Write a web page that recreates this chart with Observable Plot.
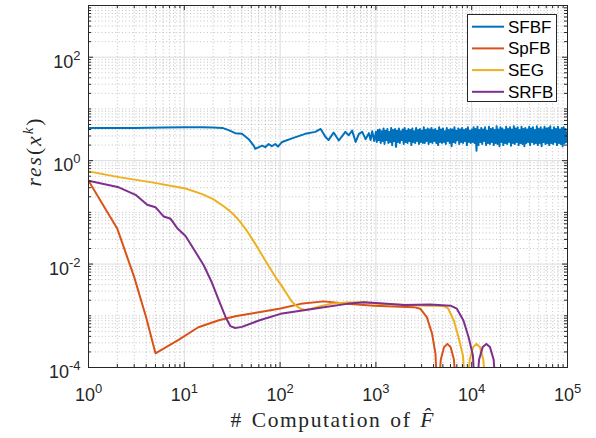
<!DOCTYPE html>
<html><head><meta charset="utf-8">
<script src="https://cdn.jsdelivr.net/npm/d3@7"></script>
<script src="https://cdn.jsdelivr.net/npm/@observablehq/plot@0.6"></script>
<style>
body{margin:0;background:#fff;}
#wrap{position:relative;width:596px;height:438px;}
#legend{position:absolute;left:467px;top:14px;width:90px;height:88px;background:#fff;border:1px solid #262626;box-sizing:border-box;}
</style></head><body><div id="wrap"></div>
<script>
const seriesNames = ["SFBF", "SpFB", "SEG", "SRFB"];
const seriesColors = ["#0072BD", "#D95319", "#EDB120", "#7E2F8E"];

// SFBF: smooth-ish part up to 1e3
const sfbfHeadX = [1,3,6,10,15,20,25,29,34,40,47,53,55,60,65,70,76,82,89,95,105,133,183,233,265,297,320,362,410,480,520,565,615,665,720,780,845,880,915,960];
const sfbfHeadY = [4.3,4.3,4.35,4.4,4.4,4.35,4.3,3.9,3.4,3.3,2.6,1.95,1.7,1.82,1.95,1.82,2.1,1.9,2.1,1.87,2.3,2.7,3.3,3.6,4.1,2.9,2.5,3.5,2.45,3.6,3.1,3.8,2.3,3.3,3.6,2.6,3.4,2.5,3.7,2.4];
// SFBF: oscillating part, sample positions within a decade (mantissas)
const decadeMantissa = [1.000,1.023,1.047,1.072,1.096,1.122,1.148,1.175,1.202,1.230,1.259,1.288,1.318,1.349,1.380,1.413,1.445,1.479,1.514,1.549,1.585,1.622,1.660,1.698,1.738,1.778,1.820,1.862,1.905,1.950,1.995,2.042,2.089,2.138,2.188,2.239,2.291,2.344,2.399,2.455,2.512,2.570,2.630,2.692,2.754,2.818,2.884,2.951,3.020,3.090,3.162,3.236,3.311,3.388,3.467,3.548,3.631,3.715,3.802,3.890,3.981,4.074,4.169,4.266,4.365,4.467,4.571,4.677,4.786,4.898,5.012,5.129,5.248,5.370,5.495,5.623,5.754,5.888,6.026,6.166,6.310,6.457,6.607,6.761,6.918,7.079,7.244,7.413,7.586,7.762,7.943,8.128,8.318,8.511,8.710,8.913,9.120,9.333,9.550,9.772];
const sfbfTailY = [
3.6,2.3,3.9,2.5,4.0,2.2,3.7,2.4,4.2,2.1,
3.8,2.5,4.1,2.2,3.6,2.3,4.3,2.0,3.9,2.4,
4.1,1.85,3.8,2.3,4.2,2.2,3.7,2.5,4.0,2.1,
4.3,2.3,3.8,2.2,4.1,2.4,3.9,2.0,4.2,2.3,
3.7,2.2,4.3,2.4,3.9,2.1,4.1,2.3,3.8,2.2,
4.4,2.2,3.9,2.4,4.2,2.1,4.0,2.3,4.3,2.2,
3.9,2.4,4.1,2.2,3.8,2.0,4.4,2.3,4.0,2.2,
4.2,2.3,3.7,2.1,4.3,2.4,3.9,2.2,4.1,1.9,
4.0,2.3,4.4,2.2,3.8,2.5,4.2,2.1,4.0,2.3,
4.3,2.2,3.9,2.4,4.1,2.0,4.4,2.3,3.8,2.2,
4.0,2.3,4.4,2.2,4.1,1.55,4.5,2.0,3.9,2.3,
4.3,2.1,4.0,2.4,4.4,2.0,3.8,2.2,4.5,2.1,
4.1,2.3,4.3,2.0,3.9,2.2,4.6,2.1,4.0,1.9,
4.4,2.3,4.2,2.0,3.9,2.2,4.5,2.1,4.1,2.3,
4.4,1.95,4.0,2.2,4.6,2.1,4.2,2.3,4.4,2.0,
3.9,2.2,4.5,2.1,4.1,1.9,4.3,2.2,4.0,2.3,
4.5,2.0,4.2,2.3,4.4,2.1,3.9,2.2,4.6,2.0,
4.1,2.2,4.4,1.9,4.0,2.3,4.5,2.1,4.2,2.2,
4.3,2.0,4.6,2.2,3.9,2.1,4.4,2.3,4.1,2.0,
4.5,2.2,4.0,2.1,4.3,1.9,4.4,2.2,4.1,2.3,
3.5];
const sfbfTailDecades = [1000, 10000];
const sfbfTailEnd = 100000;

const spfbX = [1,2,3,4,5,6.4,8.7,14,23,34,60,101,164,285,500,950,2500,2900,3400,3860,4190,4400,4760,5150,5575,6025,6520,7060];
const spfbY = [0.41,0.048,0.0056,0.00093,0.000188,0.000245,0.000342,0.0006,0.00082,0.00098,0.00117,0.00138,0.0017,0.0019,0.0017,0.00157,0.00147,0.00137,0.00094,0.00045,0.000183,0.00002,0.000143,0.000248,0.000286,0.000248,0.000143,0.00002];

const segX = [1,2.07,4.6,10.3,15.4,20,26,32,38,45,52,60,68,76,84,92,101,110,120,132,145,160,180,210,250,335,500,740,1000,1660,3400,5100,5700,6500,7300,8100,8800,9530,10350,11220,12180,13210,14350];
const segY = [0.62,0.48,0.38,0.29,0.225,0.18,0.13,0.095,0.067,0.044,0.029,0.019,0.0128,0.0092,0.0068,0.0052,0.0041,0.0032,0.0025,0.0019,0.0016,0.0014,0.0013,0.00135,0.0015,0.0017,0.0018,0.00182,0.0017,0.00166,0.00157,0.00155,0.00137,0.00081,0.00038,0.00017,0.00002,0.000143,0.000248,0.000286,0.000248,0.000143,0.00002];

const srfbX = [1,2.07,3.1,4.1,5,6.1,7.2,8.4,10.3,13,16,19.5,23,27,30.3,34,40,60,101,225,500,750,1100,1950,3700,6000,7000,8200,9300,10300,10960,11950,13020,14230,15520,16930,18460];
const srfbY = [0.41,0.305,0.218,0.14,0.126,0.083,0.075,0.05,0.035,0.0175,0.0094,0.0043,0.00197,0.00094,0.00063,0.00058,0.00061,0.00081,0.00109,0.00137,0.0017,0.00182,0.00175,0.00162,0.00165,0.00157,0.00137,0.00081,0.00038,0.00017,0.00002,0.000143,0.000248,0.000286,0.000248,0.000143,0.00002];

const xTicks = [1, 10, 100, 1000, 10000, 100000];
const yTicks = [1e-4, 1e-2, 1, 1e2];
const yDecades = [1e-4, 1e-3, 1e-2, 1e-1, 1, 10, 100, 1000];
const minorMult = [2, 3, 4, 5, 6, 7, 8, 9];
const xLabelText = "# Computation of F\u0302";
const yLabelText = "res(x^k)";

const sfbfX = sfbfHeadX.concat(sfbfTailDecades.flatMap(d => decadeMantissa.map(m => d * m)), [sfbfTailEnd]);
const sfbfY = sfbfHeadY.concat(sfbfTailY);

const rows = [];
[[sfbfX, sfbfY], [spfbX, spfbY], [segX, segY], [srfbX, srfbY]].forEach(([xs, ys], i) =>
  xs.forEach((x, j) => rows.push({s: seriesNames[i], x, y: ys[j]})));

const xMinor = xTicks.slice(0, -1).flatMap(d => minorMult.map(m => d * m));
const yMinor = yDecades.slice(0, -1).flatMap(d => minorMult.map(m => d * m))
  .concat(yDecades.filter(d => !yTicks.includes(d)));

const W = 596, H = 438, mL = 88, mR = 29, mT = 5, mB = 71;
const iw = W - mL - mR, ih = H - mT - mB;
const axisCol = "#262626";
const expFmt = d => String(Math.round(Math.log10(d)));

const svg = Plot.plot({
  width: W, height: H,
  marginLeft: mL, marginRight: mR, marginTop: mT, marginBottom: mB,
  style: {fontFamily: "'Liberation Sans', Arial, sans-serif", color: axisCol, background: "#fff"},
  x: {type: "log", domain: [1, 1e5]},
  y: {type: "log", domain: [1e-4, 1e3]},
  color: {domain: seriesNames, range: seriesColors},
  marks: [
    Plot.ruleY(yMinor, {y: d => d, stroke: "#a8a8a8", strokeWidth: 0.7, strokeDasharray: "1,2.4"}),
    Plot.ruleX(xMinor, {x: d => d, stroke: "#a8a8a8", strokeWidth: 0.7, strokeDasharray: "1,2.4"}),
    Plot.ruleY(yTicks, {y: d => d, stroke: "#dcdcdc", strokeWidth: 1}),
    Plot.ruleX(xTicks, {x: d => d, stroke: "#dcdcdc", strokeWidth: 1}),
    Plot.line(rows, {x: "x", y: "y", z: "s", stroke: "s", strokeWidth: 2, clip: true}),
    Plot.tickX(xTicks, {x: d => d, insetTop: ih - 5, stroke: axisCol}),
    Plot.tickX(xTicks, {x: d => d, insetBottom: ih - 5, stroke: axisCol}),
    Plot.tickX(xMinor, {x: d => d, insetTop: ih - 3, stroke: axisCol}),
    Plot.tickX(xMinor, {x: d => d, insetBottom: ih - 3, stroke: axisCol}),
    Plot.tickY(yTicks, {y: d => d, insetRight: iw - 5, stroke: axisCol}),
    Plot.tickY(yTicks, {y: d => d, insetLeft: iw - 5, stroke: axisCol}),
    Plot.tickY(yMinor, {y: d => d, insetRight: iw - 3, stroke: axisCol}),
    Plot.tickY(yMinor, {y: d => d, insetLeft: iw - 3, stroke: axisCol}),
    Plot.frame({stroke: axisCol, strokeWidth: 1}),
    Plot.axisX({ticks: xTicks, tickSize: 0, tickPadding: 21, tickFormat: expFmt, fontSize: 18, label: null}),
    Plot.axisY({ticks: yTicks, tickSize: 0, tickPadding: 8, dy: 5, tickFormat: expFmt, fontSize: 18, label: null}),
    Plot.text([xLabelText], {frameAnchor: "bottom", text: d => d, dy: 59, dx: 4, lineAnchor: "bottom",
      fontSize: 21.5, fontFamily: "'Liberation Serif', serif", fill: axisCol}),
    Plot.text([yLabelText], {frameAnchor: "left", text: d => d, dx: -54, rotate: -90,
      fontSize: 21.5, fontFamily: "'Liberation Serif', serif", fill: axisCol})
  ]
});

const ns = "http://www.w3.org/2000/svg";
function tspan(parent, txt, attrs) {
  const t = document.createElementNS(ns, "tspan");
  t.textContent = txt;
  for (const k in attrs) t.setAttribute(k, attrs[k]);
  parent.appendChild(t);
  return t;
}
svg.querySelectorAll('g[aria-label="x-axis tick label"] text, g[aria-label="y-axis tick label"] text').forEach(t => {
  const e = t.textContent;
  t.textContent = "";
  tspan(t, "10", {});
  tspan(t, e, {dy: "-8", "font-size": "13"});
});
svg.querySelectorAll("text").forEach(t => {
  if (t.textContent === xLabelText) {
    t.textContent = "";
    tspan(t, "# Computation of ", {"word-spacing": "2"});
    tspan(t, "F\u0302", {"font-style": "italic"});
    t.setAttribute("textLength", "203");
    t.setAttribute("lengthAdjust", "spacing");
  } else if (t.textContent === yLabelText) {
    t.textContent = "";
    tspan(t, "res", {"font-style": "italic"});
    tspan(t, "(", {});
    tspan(t, "x", {"font-style": "italic"});
    tspan(t, "k", {"font-style": "italic", "font-size": "15", dy: "-8"});
    tspan(t, ")", {dy: "8"});
    t.setAttribute("textLength", "68");
    t.setAttribute("lengthAdjust", "spacing");
  }
});

const wrap = document.getElementById("wrap");
wrap.appendChild(svg);

// legend
const leg = d3.select(wrap).append("div").attr("id", "legend");
const lsvg = leg.append("svg").attr("width", 88).attr("height", 86);
seriesNames.forEach((n, i) => {
  const cy = 11.7 + i * 21.7;
  lsvg.append("line").attr("x1", 4).attr("x2", 36).attr("y1", cy).attr("y2", cy)
    .attr("stroke", seriesColors[i]).attr("stroke-width", 2);
  lsvg.append("text").attr("x", 40).attr("y", cy).attr("dy", "0.35em")
    .attr("font-family", "'Liberation Sans', Arial, sans-serif").attr("font-size", 17)
    .attr("fill", "#000").text(n);
});
</script></body></html>
